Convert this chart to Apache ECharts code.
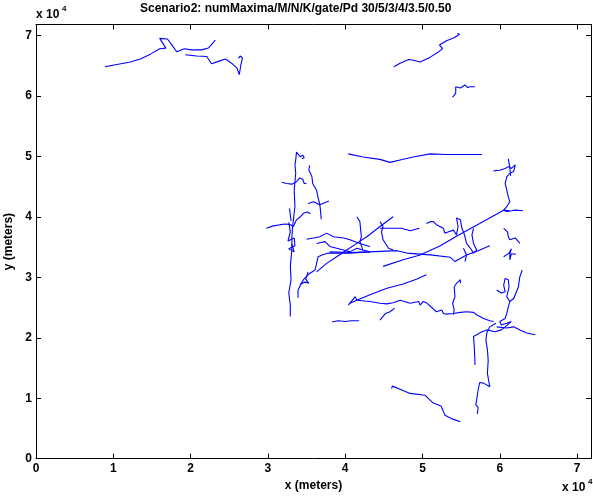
<!DOCTYPE html>
<html>
<head>
<meta charset="utf-8">
<script src="https://cdn.jsdelivr.net/npm/echarts@6.0.0/dist/echarts.min.js"></script>
<style>
html, body { margin: 0; padding: 0; background: #fff; }
#chart { width: 593px; height: 496px; }
</style>
</head>
<body>
<div id="chart"></div>
<script>
// track positions, in units of 1e4 meters: [x, y]
const trackA = [[0.89,6.48],[1.22,6.56],[1.35,6.61],[1.48,6.69],[1.60,6.78],[1.68,6.79],[1.60,6.95],[1.70,6.94],[1.76,6.84],[1.82,6.73],[1.92,6.78],[2.01,6.76],[2.14,6.76],[2.23,6.79],[2.32,6.92]]
const trackB = [[1.93,6.68],[2.08,6.66],[2.21,6.65],[2.27,6.53],[2.36,6.57],[2.45,6.61],[2.53,6.54],[2.60,6.46],[2.63,6.35],[2.65,6.51],[2.67,6.63],[2.64,6.66],[2.62,6.62]]
const trackC = [[4.63,6.48],[4.71,6.54],[4.82,6.60],[4.88,6.59],[4.97,6.56],[5.10,6.64],[5.20,6.72],[5.26,6.78],[5.22,6.84],[5.31,6.91],[5.41,6.96],[5.48,7.02],[5.45,7.03]]
const trackD = [[5.39,5.98],[5.43,6.04],[5.43,6.15],[5.49,6.13],[5.55,6.18],[5.58,6.14],[5.62,6.15],[5.68,6.15]]
const trackE = [[4.04,5.04],[4.23,4.99],[4.45,4.95],[4.58,4.90],[4.71,4.94],[4.88,4.99],[5.10,5.04],[5.31,5.03],[5.62,5.03],[5.77,5.03]]
const trackF = [[3.44,4.96],[3.47,4.98],[3.45,5.02],[3.42,4.99],[3.37,5.07],[3.36,4.94],[3.35,4.86],[3.36,4.72],[3.34,4.44],[3.35,4.17],[3.33,3.95],[3.32,3.84],[3.31,3.67],[3.31,3.45],[3.29,3.18],[3.30,2.96],[3.27,2.74],[3.29,2.54],[3.29,2.35]]
const trackG = [[3.54,4.85],[3.53,4.77],[3.55,4.72],[3.57,4.66],[3.58,4.55],[3.63,4.44],[3.65,4.31],[3.67,4.22],[3.68,4.11],[3.69,3.96]]
const trackG2 = [[3.52,4.22],[3.59,4.25],[3.67,4.20],[3.79,4.26]]
const trackH = [[3.18,4.57],[3.24,4.55],[3.31,4.54],[3.37,4.58],[3.41,4.64],[3.45,4.62],[3.47,4.55],[3.48,4.53],[3.50,4.55]]
const trackI = [[2.98,3.81],[3.07,3.85],[3.16,3.87],[3.23,3.88],[3.29,3.87],[3.33,3.84],[3.37,3.95],[3.42,4.00],[3.46,4.06],[3.51,4.08],[3.55,4.05]]
const trackI2 = [[3.27,3.91],[3.29,3.75],[3.26,3.60],[3.34,3.65],[3.35,3.52],[3.27,3.47],[3.34,3.42],[3.31,3.55]]
const trackI3 = [[3.28,4.14],[3.29,4.03],[3.30,3.93]]
const trackJ1 = [[3.39,2.66],[3.39,2.79],[3.42,2.87],[3.46,2.96],[3.52,3.04],[3.55,3.07],[3.61,3.12],[3.63,3.23],[3.65,3.34],[3.70,3.37],[3.78,3.40],[3.93,3.40],[4.06,3.40],[4.32,3.42]]
const trackJ2 = [[3.63,3.09],[3.76,3.23],[3.89,3.34],[4.02,3.45],[4.15,3.56],[4.28,3.67],[4.45,3.84],[4.62,4.00]]
const trackJ3 = [[3.50,3.63],[3.59,3.65],[3.67,3.67],[3.76,3.73],[3.85,3.67],[3.98,3.65],[4.06,3.62],[4.19,3.56],[4.32,3.51]]
const trackJ4 = [[3.63,3.56],[3.74,3.59],[3.80,3.51],[3.89,3.48],[3.98,3.45],[4.06,3.42],[4.15,3.48],[4.23,3.45],[4.32,3.42]]
const trackJ5 = [[3.42,2.89],[3.48,2.92],[3.53,2.90],[3.49,2.97],[3.52,3.09]]
const trackL1 = [[3.80,3.42],[4.06,3.41],[4.32,3.42],[4.67,3.44],[4.80,3.40],[5.10,3.37],[5.36,3.33],[5.42,3.26],[5.57,3.37],[5.72,3.44],[5.87,3.52]]
const trackL2 = [[4.49,3.18],[4.75,3.29],[4.97,3.37],[5.23,3.52],[5.44,3.68],[5.74,3.89],[6.05,4.11],[6.13,4.10]]
const trackK = [[5.92,4.76],[6.00,4.77],[6.07,4.80],[6.11,4.83],[6.13,4.86],[6.15,4.80],[6.20,4.86],[6.22,4.89],[6.18,4.75],[6.13,4.72],[6.09,4.66],[6.07,4.55],[6.09,4.44],[6.11,4.33],[6.13,4.25],[6.09,4.17],[6.05,4.11],[6.09,4.09],[6.15,4.10],[6.20,4.11],[6.30,4.10]]
const trackK2 = [[6.11,4.96],[6.13,4.82],[6.14,4.68]]
const trackM1 = [[6.05,3.81],[6.10,3.75],[6.11,3.67],[6.13,3.62],[6.20,3.65],[6.26,3.56]]
const trackM2 = [[6.05,3.34],[6.12,3.40],[6.15,3.47],[6.13,3.39],[6.13,3.29],[6.15,3.39],[6.21,3.38]]
const trackN = [[5.05,3.89],[5.10,3.92],[5.14,3.92],[5.18,3.87],[5.27,3.81],[5.29,3.73],[5.33,3.75],[5.40,3.78],[5.44,3.70],[5.46,3.84],[5.44,3.98],[5.49,3.95],[5.51,3.81],[5.53,3.75],[5.55,3.67],[5.57,3.56],[5.62,3.48],[5.66,3.40],[5.70,3.45],[5.66,3.56],[5.64,3.70],[5.66,3.81]]
const trackN2 = [[5.53,3.48],[5.57,3.37],[5.55,3.26]]
const trackP1 = [[4.15,4.00],[4.19,3.92],[4.20,3.78],[4.21,3.67],[4.19,3.59],[4.23,3.45]]
const trackP2 = [[4.45,3.92],[4.49,3.84],[4.47,3.75],[4.49,3.62],[4.56,3.48],[4.62,3.45]]
const trackP3 = [[4.45,3.81],[4.58,3.81],[4.73,3.81],[4.84,3.77],[4.96,3.81]]
const trackQ2 = [[4.06,2.57],[4.15,2.62],[4.32,2.71],[4.54,2.82],[4.75,2.89],[4.93,2.97],[5.05,3.04]]
const trackQ3 = [[4.04,2.54],[4.13,2.68],[4.15,2.62],[4.32,2.60],[4.45,2.57],[4.54,2.56],[4.62,2.58],[4.71,2.62],[4.84,2.57],[4.95,2.60],[4.97,2.54],[5.01,2.60],[5.05,2.58],[5.18,2.43],[5.25,2.46],[5.27,2.40],[5.31,2.39],[5.40,2.40],[5.49,2.42],[5.57,2.43],[5.66,2.42],[5.70,2.38],[5.79,2.32],[5.87,2.28],[5.92,2.27]]
const trackQ4 = [[4.45,2.29],[4.52,2.40],[4.58,2.43],[4.64,2.49]]
const trackQ5 = [[3.83,2.26],[3.91,2.28],[4.00,2.27],[4.08,2.28],[4.18,2.28]]
const trackQ6 = [[5.40,2.38],[5.41,2.46],[5.39,2.57],[5.42,2.68],[5.41,2.84],[5.44,2.90],[5.49,2.96],[5.51,2.98],[5.49,2.90]]
const trackR1 = [[5.96,2.79],[6.02,2.74],[6.07,2.76],[6.05,2.87],[6.07,2.98],[6.11,2.96],[6.12,2.84],[6.09,2.68],[6.13,2.60],[6.18,2.65],[6.24,2.84],[6.26,3.01],[6.29,3.12]]
const trackR2 = [[6.13,2.60],[6.11,2.51],[6.09,2.40],[6.07,2.32],[6.00,2.27],[5.98,2.24],[6.02,2.21],[6.09,2.24],[6.15,2.27],[6.07,2.18],[6.02,2.13],[5.94,2.10],[5.83,2.13],[5.77,2.10],[5.66,2.02],[5.67,1.85],[5.68,1.55]]
const trackR3 = [[5.95,2.24],[5.87,2.18],[5.83,2.07],[5.82,1.96],[5.84,1.80],[5.85,1.63],[5.84,1.41],[5.87,1.19],[5.79,1.25],[5.74,1.26],[5.72,1.14],[5.70,0.97],[5.69,0.89],[5.72,0.85],[5.71,0.74]]
const trackR4 = [[5.96,2.18],[6.09,2.16],[6.18,2.18],[6.26,2.13],[6.35,2.08],[6.46,2.05]]
const trackS = [[4.60,1.16],[4.61,1.20],[4.71,1.15],[4.84,1.08],[5.03,1.05],[5.14,0.92],[5.24,0.87],[5.29,0.72],[5.40,0.65],[5.49,0.61]]

const tracks = [trackA, trackB, trackC, trackD, trackE, trackF, trackG, trackG2, trackH, trackI, trackI2, trackI3,
  trackJ1, trackJ2, trackJ3, trackJ4, trackJ5, trackL1, trackL2, trackK, trackK2, trackM1, trackM2,
  trackN, trackN2, trackP1, trackP2, trackP3, trackQ2, trackQ3, trackQ4, trackQ5, trackQ6,
  trackR1, trackR2, trackR3, trackR4, trackS]

const axisMax = 7.18
const font = 'Liberation Sans, Arial, sans-serif'
const bold = { color: '#000', fontWeight: 'bold', fontSize: 12, fontFamily: font }

const chart = echarts.init(document.getElementById('chart'))

function intLabel(v) {
  return Math.abs(v - Math.round(v)) < 1e-6 ? String(Math.round(v)) : ''
}

function makeAxis(pos, withLabels) {
  return {
    type: 'value',
    min: 0,
    max: axisMax,
    interval: 1,
    position: pos,
    axisLine: { show: true, onZero: false, lineStyle: { color: '#000', width: 1 } },
    axisTick: { show: true, inside: true, length: 5, lineStyle: { color: '#000', width: 1 } },
    axisLabel: Object.assign({ show: withLabels, formatter: intLabel, margin: 4 }, bold),
    splitLine: { show: false }
  }
}

const xBottom = Object.assign(makeAxis('bottom', true), {
  name: 'x (meters)', nameLocation: 'middle', nameGap: 17, nameTextStyle: bold
})
const yLeft = Object.assign(makeAxis('left', true), {
  name: 'y (meters)', nameLocation: 'middle', nameGap: 16, nameTextStyle: bold
})

chart.setOption({
  animation: false,
  grid: { left: 36, right: 2, top: 24.5, bottom: 37.3, containLabel: false, outerBoundsMode: 'none' },
  xAxis: [xBottom, makeAxis('top', false)],
  yAxis: [yLeft, makeAxis('right', false)],
  series: tracks.map(t => ({
    type: 'line',
    data: t,
    symbol: 'none',
    silent: true,
    lineStyle: { color: '#0000ff', width: 1.1 }
  })),
  graphic: [
    { type: 'text', left: 140, top: 3,
      style: Object.assign({ text: 'Scenario2: numMaxima/M/N/K/gate/Pd 30/5/3/4/3.5/0.50' }, bold) },
    { type: 'text', left: 36, top: 9, style: Object.assign({ text: 'x 10' }, bold) },
    { type: 'text', left: 62, top: 5, style: Object.assign({}, bold, { text: '4', fontSize: 8 }) },
    { type: 'text', left: 562, top: 482, style: Object.assign({ text: 'x 10' }, bold) },
    { type: 'text', left: 588, top: 478, style: Object.assign({}, bold, { text: '4', fontSize: 8 }) }
  ]
})
</script>
</body>
</html>
